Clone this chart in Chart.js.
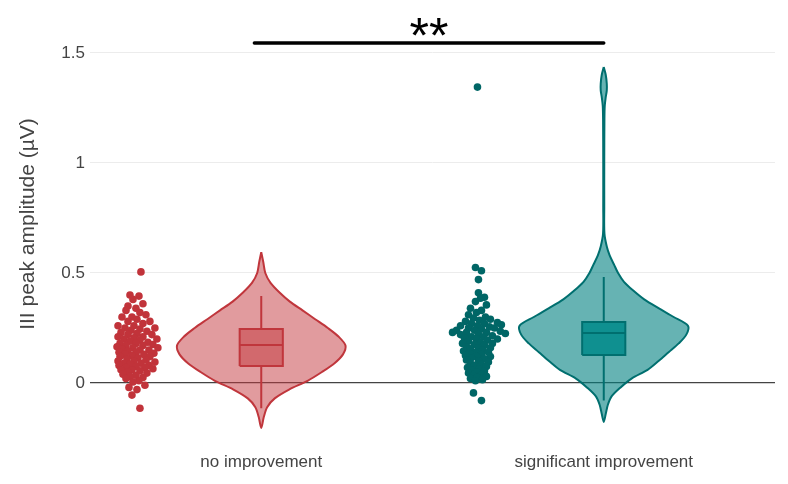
<!DOCTYPE html>
<html><head><meta charset="utf-8">
<script src="https://cdn.jsdelivr.net/npm/chart.js@4"></script>
<style>html,body{margin:0;padding:0;background:#fff;}#wrap{width:788px;height:484px;}</style>
</head><body><div id="wrap"><canvas id="c" width="788" height="484"></canvas></div>
<script>
// ---------- data ----------
const categories = ['no improvement', 'significant improvement'];
const yTicks = [0, 0.5, 1, 1.5];
const yTitle = 'III peak amplitude (µV)';

// individual observations (µV) and their horizontal jitter (relative units)
const noImpValues = [0.505,0.40,0.395,0.38,0.36,0.35,0.34,0.33,0.32,0.31,0.30,0.30,0.29,0.28,0.28,0.27,0.26,0.26,0.25,0.25,0.245,0.24,0.235,0.23,0.225,0.22,0.22,0.21,0.21,0.205,0.20,0.20,0.195,0.19,0.185,0.18,0.18,0.175,0.17,0.17,0.165,0.16,0.16,0.155,0.15,0.15,0.145,0.14,0.14,0.135,0.13,0.13,0.125,0.12,0.12,0.115,0.11,0.105,0.10,0.10,0.095,0.09,0.09,0.085,0.08,0.08,0.075,0.07,0.07,0.065,0.06,0.06,0.055,0.05,0.045,0.04,0.035,0.03,0.025,0.02,0.01,0.005,-0.01,-0.02,-0.03,-0.055,-0.115];
const noImpJitter = [3,-8,1,-5,5,-10,-2,-12,2,8,-6,-16,-1,12,-10,5,-20,-4,17,-13,2,-7,9,-17,-1,14,-10,5,-20,-4,19,-14,2,-8,10,-18,-2,15,-12,5,-21,-5,20,-16,2,11,-10,-2,-19,16,-13,6,-6,-18,12,0,-11,8,-20,-4,17,-14,3,-8,11,-19,-2,-12,7,15,-17,-6,2,-10,9,-15,-2,-8,5,-12,1,-5,7,-9,-1,-6,2];
const sigImpValues = [1.345,0.525,0.51,0.47,0.41,0.39,0.385,0.37,0.355,0.34,0.33,0.32,0.31,0.30,0.295,0.29,0.285,0.28,0.275,0.27,0.27,0.265,0.26,0.26,0.255,0.25,0.25,0.245,0.24,0.24,0.235,0.23,0.23,0.23,0.225,0.22,0.22,0.215,0.21,0.21,0.205,0.20,0.20,0.195,0.19,0.185,0.18,0.18,0.175,0.17,0.165,0.16,0.16,0.155,0.15,0.145,0.14,0.14,0.135,0.13,0.125,0.12,0.12,0.115,0.11,0.105,0.10,0.095,0.09,0.085,0.08,0.075,0.07,0.065,0.06,0.055,0.05,0.045,0.04,0.035,0.03,0.025,0.02,0.015,0.01,-0.045,-0.08];
const sigImpJitter = [-3,-5,1,-2,-2,4,0,-5,6,-10,1,-4,-12,5,-7,10,-1,-15,17,4,-9,21,-3,-20,9,-12,14,1,-24,-6,20,-28,6,-14,25,-2,-20,12,-9,3,-16,17,-4,7,-12,0,-18,12,-6,4,-14,-2,10,-10,2,-17,-5,8,-11,1,-15,-4,10,-9,4,-14,-2,8,-10,1,-6,6,-13,-1,-8,4,-4,-12,1,-7,6,-3,-10,2,-5,-7,1];

// violin outlines: value levels and relative density (1 = widest)
const noImpViolinY = [0.595,0.55,0.50,0.455,0.41,0.37,0.33,0.29,0.25,0.21,0.17,0.13,0.09,0.05,0.01,-0.03,-0.07,-0.11,-0.155,-0.205];
const noImpViolinDensity = [0,0.024,0.048,0.11,0.22,0.34,0.49,0.64,0.79,0.92,1.0,0.97,0.87,0.72,0.55,0.33,0.16,0.07,0.03,0];
const sigImpViolinY = [1.436,1.40,1.36,1.33,1.30,1.26,1.20,1.0,0.8,0.68,0.62,0.58,0.54,0.50,0.46,0.42,0.38,0.34,0.30,0.26,0.22,0.18,0.14,0.10,0.06,0.02,-0.02,-0.06,-0.10,-0.14,-0.177];
const sigImpViolinDensity = [0,0.024,0.036,0.036,0.024,0.012,0.008,0.006,0.006,0.008,0.036,0.07,0.12,0.17,0.24,0.35,0.48,0.65,0.83,1.0,0.98,0.89,0.77,0.65,0.52,0.33,0.2,0.095,0.048,0.024,0];

// box statistics: [lower whisker, q1, median, q3, upper whisker]
const noImpBox = [-0.115, 0.077, 0.173, 0.245, 0.395];
const sigImpBox = [-0.08, 0.127, 0.227, 0.277, 0.482];

// significance bracket: [x start, x end, y level] and its label
const sigBracket = [-0.02, 1.0, 1.545];
const sigLabel = '**';

// ---------- styling / geometry ----------
const FONT = "'Liberation Sans', Arial, Helvetica, sans-serif";
const VIOLIN_HALF = 0.246;   // category units at density 1
const BOX_HALF = 0.063;
const POINT_POS = -0.36;
const JITTER_WIDTH = 0.064;
const JITTER_STEPS = 22;
const styles = [
  {line:'#c0363c', fill:'rgba(195,56,61,0.5)', box:'rgba(195,56,61,0.5)', point:'#c1333a'},
  {line:'#006f6f', fill:'rgba(0,128,128,0.6)', box:'rgba(0,139,139,0.85)', point:'#006666'}
];

function violinPoints(ci, ys, dens) {
  const pts = [];
  for (let i = 0; i < ys.length; i++) pts.push({x: ci + dens[i] * VIOLIN_HALF, y: ys[i]});
  for (let i = ys.length - 2; i >= 1; i--) pts.push({x: ci - dens[i] * VIOLIN_HALF, y: ys[i]});
  pts.push({x: ci, y: ys[0]});
  return pts;
}
function groupDatasets(ci, values, jitter, vy, vd, box, st) {
  const [lw, q1, med, q3, uw] = box;
  return [
    {type:'scatter', data: values.map((v, i) => ({x: ci + POINT_POS + jitter[i] / JITTER_STEPS * JITTER_WIDTH, y: v})),
     backgroundColor: st.point, borderWidth: 0, pointRadius: 3.8, showLine: false, order: 0},
    {type:'scatter', data: [{x: ci - BOX_HALF, y: med}, {x: ci + BOX_HALF, y: med}],
     showLine: true, borderColor: st.line, borderWidth: 2, pointRadius: 0, order: 1},
    {type:'scatter', data: [{x: ci - BOX_HALF, y: q1}, {x: ci + BOX_HALF, y: q1}, {x: ci + BOX_HALF, y: q3}, {x: ci - BOX_HALF, y: q3}, {x: ci - BOX_HALF, y: q1}],
     showLine: true, fill: 'shape', backgroundColor: st.box, borderColor: st.line, borderWidth: 2, pointRadius: 0, order: 2},
    {type:'scatter', data: [{x: ci, y: lw}, {x: ci, y: q1}, {x: ci, y: null}, {x: ci, y: q3}, {x: ci, y: uw}],
     showLine: true, spanGaps: false, borderColor: st.line, borderWidth: 2, pointRadius: 0, order: 3},
    {type:'scatter', data: violinPoints(ci, vy, vd),
     showLine: true, fill: 'shape', tension: 0.3, backgroundColor: st.fill, borderColor: st.line, borderWidth: 2, pointRadius: 0, order: 4}
  ];
}

const datasets = [
  ...groupDatasets(0, noImpValues, noImpJitter, noImpViolinY, noImpViolinDensity, noImpBox, styles[0]),
  ...groupDatasets(1, sigImpValues, sigImpJitter, sigImpViolinY, sigImpViolinDensity, sigImpBox, styles[1])
];

const sigPlugin = {
  id: 'sig',
  afterDatasetsDraw(chart) {
    const {ctx, scales: {x, y}} = chart;
    const x0 = x.getPixelForValue(sigBracket[0]);
    const x1 = x.getPixelForValue(sigBracket[1]);
    const yy = y.getPixelForValue(sigBracket[2]);
    ctx.save();
    ctx.strokeStyle = '#000';
    ctx.lineWidth = 3.5;
    ctx.lineCap = 'round';
    ctx.beginPath(); ctx.moveTo(x0, yy); ctx.lineTo(x1, yy); ctx.stroke();
    ctx.font = '50px ' + FONT;
    ctx.fillStyle = '#000';
    ctx.textAlign = 'center';
    ctx.textBaseline = 'alphabetic';
    const m = ctx.measureText(sigLabel);
    const cy = yy - 16;
    const base = cy - (m.actualBoundingBoxDescent - m.actualBoundingBoxAscent) / 2;
    ctx.fillText(sigLabel, (x0 + x1) / 2, base);
    ctx.restore();
  }
};

Chart.defaults.font.family = FONT;
new Chart(document.getElementById('c'), {
  type: 'scatter',
  data: {datasets},
  plugins: [sigPlugin],
  options: {
    responsive: false, animation: false, devicePixelRatio: 1,
    layout: {padding: {top: 8, right: 13, left: 0, bottom: 0}},
    plugins: {legend: {display: false}, tooltip: {enabled: false}},
    scales: {
      x: {
        type: 'linear', min: -0.5, max: 1.5,
        grid: {display: false, drawTicks: false}, border: {display: false},
        afterBuildTicks: s => { s.ticks = categories.map((c, i) => ({value: i})); },
        ticks: {callback: v => categories[v] ?? '', font: {size: 17}, color: '#444', padding: 12, maxRotation: 0, autoSkip: false},
        afterFit: s => { s.height = 44; s.paddingLeft = 0; s.paddingRight = 0; }
      },
      y: {
        type: 'linear', min: -0.2591, max: 1.7045,
        afterBuildTicks: s => { s.ticks = yTicks.map(v => ({value: v})); },
        grid: {color: c => (c.tick && c.tick.value === 0) ? '#444' : '#ececec', lineWidth: c => (c.tick && c.tick.value === 0) ? 1.3 : 1, drawTicks: false},
        border: {display: false},
        ticks: {padding: 5, font: {size: 17}, color: '#444', callback: v => String(v)},
        title: {display: true, text: yTitle, font: {size: 21}, color: '#444', padding: {top: 16, bottom: 0}},
        afterFit: s => { s.width = 90; s.paddingTop = 0; s.paddingBottom = 0; }
      }
    }
  }
});
</script>
</body></html>
